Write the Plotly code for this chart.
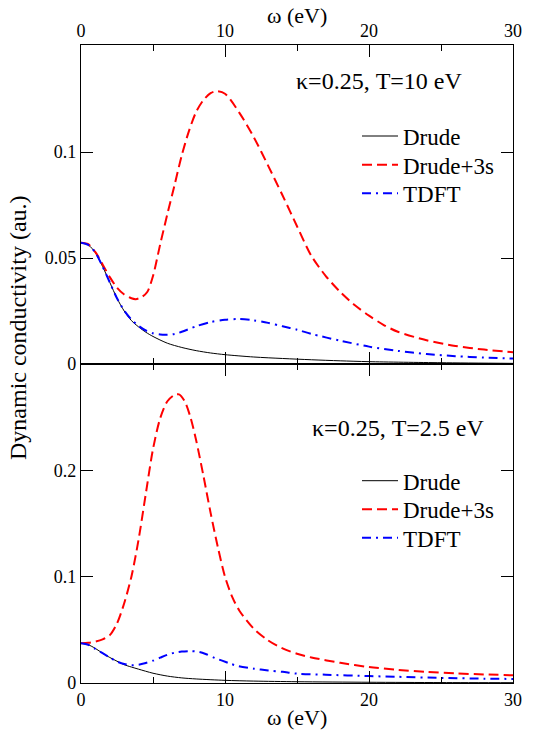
import plotly.graph_objects as go

# ---------------- data: top panel (kappa=0.25, T=10 eV) ----------------
w_top_drude = [0, 0.5, 1, 1.5, 2, 2.5, 3, 3.5, 4, 4.5, 5, 6, 7, 8, 9, 10, 12, 14, 16, 18, 20, 25, 30]
s_top_drude = [0.0572, 0.0562, 0.0525, 0.046, 0.0385, 0.031, 0.025, 0.0205, 0.0175, 0.015, 0.013,
               0.0098, 0.0078, 0.0063, 0.0052, 0.0044, 0.0033, 0.0026, 0.002, 0.0015, 0.0011, 0.0006, 0.0003]

w_top_3s = [0, 0.5, 1, 1.5, 2, 2.5, 3, 3.5, 3.8, 4.2, 4.6, 5, 5.5, 6, 6.5, 7, 7.5, 8, 8.5, 9, 9.4,
            10, 11, 12, 13, 14, 15, 16, 17, 18, 19, 20, 21, 22, 24, 26, 28, 30]
s_top_3s = [0.0572, 0.0565, 0.0528, 0.047, 0.041, 0.036, 0.0328, 0.031, 0.0306, 0.0315, 0.034, 0.0415,
            0.0565, 0.0708, 0.0845, 0.0985, 0.11, 0.119, 0.1245, 0.1278, 0.1287, 0.1275, 0.1185, 0.107,
            0.0935, 0.0795, 0.065, 0.051, 0.0415, 0.034, 0.0278, 0.0228, 0.0185, 0.0152, 0.0112, 0.0085,
            0.0068, 0.0056]

w_top_tdft = [0, 0.5, 1, 1.5, 2, 2.5, 3, 3.5, 4, 4.5, 5, 5.5, 6, 6.5, 7, 8, 9, 10, 11, 12, 13, 14, 15,
              16, 18, 20, 22, 24, 26, 28, 30]
s_top_tdft = [0.0572, 0.0562, 0.0525, 0.046, 0.0385, 0.031, 0.0252, 0.021, 0.018, 0.0158, 0.0145,
              0.0139, 0.0138, 0.0142, 0.0152, 0.0178, 0.0198, 0.0209, 0.0212, 0.0206, 0.0194, 0.0178,
              0.0162, 0.0142, 0.011, 0.0082, 0.0062, 0.0047, 0.0037, 0.003, 0.0026]

# ---------------- data: bottom panel (kappa=0.25, T=2.5 eV) ----------------
w_bot_drude = [0, 0.5, 1, 1.5, 2, 2.5, 3, 3.5, 4, 5, 6, 7, 8, 10, 12, 15, 20, 25, 30]
s_bot_drude = [0.0375, 0.036, 0.0325, 0.028, 0.024, 0.0205, 0.0172, 0.015, 0.013, 0.0092, 0.0065,
               0.0048, 0.0038, 0.0025, 0.0018, 0.0012, 0.0007, 0.0004, 0.0003]

w_bot_3s = [0, 0.5, 1, 1.5, 2, 2.5, 3, 3.5, 4, 4.5, 5, 5.5, 6, 6.5, 6.8, 7.2, 7.6, 8, 8.5, 9, 9.5,
            10, 10.5, 11, 12, 13, 14, 15, 16, 18, 20, 22, 24, 26, 28, 30]
s_bot_3s = [0.0375, 0.0378, 0.039, 0.041, 0.045, 0.056, 0.075, 0.1, 0.135, 0.178, 0.22, 0.249, 0.265,
            0.271, 0.2715, 0.265, 0.25, 0.228, 0.195, 0.16, 0.128, 0.1, 0.081, 0.068, 0.051, 0.04,
            0.0325, 0.0275, 0.024, 0.019, 0.015, 0.0124, 0.0105, 0.009, 0.0081, 0.0072]

w_bot_tdft = [0, 0.5, 1, 1.5, 2, 2.5, 3, 3.5, 4, 4.5, 5, 5.5, 6, 6.5, 7, 7.6, 8.2, 8.7, 9.3, 9.8, 10.4,
              10.9, 12, 13, 14, 15, 17, 20, 22, 25, 28, 30]
s_bot_tdft = [0.0375, 0.036, 0.032, 0.028, 0.024, 0.0202, 0.0178, 0.0168, 0.0172, 0.0188, 0.021,
              0.0238, 0.0265, 0.0285, 0.0296, 0.030, 0.0292, 0.027, 0.0235, 0.021, 0.018, 0.016,
              0.0135, 0.0118, 0.0105, 0.0088, 0.0078, 0.0065, 0.0058, 0.0048, 0.0041, 0.0038]

series_names = ["Drude", "Drude+3s", "TDFT"]
x_tickvals = [0, 10, 20, 30]
top_y_tickvals = [0, 0.05, 0.1]
top_y_ticktext = ["0", "0.05", "0.1"]
bot_y_tickvals = [0, 0.1, 0.2]
bot_y_ticktext = ["0", "0.1", "0.2"]
top_label = "κ=0.25, T=10 eV"
bot_label = "κ=0.25, T=2.5 eV"
x_title = "ω (eV)"
y_title = "Dynamic conductivity (au.)"

FONT = "Liberation Serif, Times New Roman, Times, serif"
RED_DASH = "10px,5px"
BLUE_DASHDOT = "9px,5px,2px,5px"

# plot area in page pixels: x 81..513, y 45..683
PLOT_L, PLOT_W, PLOT_B, PLOT_H = 81, 432, 683, 638
LEG_FONT = 23
LEG_ITEMW = 36


def px_x(x):
    return (x - PLOT_L) / PLOT_W


def px_y(y):
    return (PLOT_B - y) / PLOT_H


# centre rows of the legend entries (page pixels)
top_leg_rows = [136, 164.7, 193.3]
bot_leg_rows = [480.7, 509.3, 537.7]
leg_line_start = 362

fig = go.Figure()

STYLES = [dict(color="black", width=1),
          dict(color="#ff0000", width=2, dash=RED_DASH),
          dict(color="#0000ff", width=2, dash=BLUE_DASHDOT)]

legend_common = dict(font=dict(family=FONT, size=LEG_FONT, color="black"), bgcolor="rgba(0,0,0,0)",
                     borderwidth=0, xanchor="left", yanchor="top", tracegroupgap=0, itemwidth=LEG_ITEMW)
item_h = LEG_FONT * 1.3 + 3
legends = {}


def add_set(ws, ss, xa, ya, rows, first_idx):
    for k, (w, s, name, st) in enumerate(zip(ws, ss, series_names, STYLES)):
        idx = first_idx + k
        leg = "legend" if idx == 1 else f"legend{idx}"
        legends[leg] = dict(legend_common, x=px_x(leg_line_start - 5),
                            y=px_y(rows[k] - 5 - item_h / 2))
        fig.add_trace(go.Scatter(x=w, y=s, mode="lines", name=name,
                                 line=dict(shape="spline", smoothing=0.8, **st),
                                 xaxis=xa, yaxis=ya, legend=leg, hoverinfo="skip"))


add_set([w_top_drude, w_top_3s, w_top_tdft], [s_top_drude, s_top_3s, s_top_tdft], "x", "y", top_leg_rows, 1)
add_set([w_bot_drude, w_bot_3s, w_bot_tdft], [s_bot_drude, s_bot_3s, s_bot_tdft], "x2", "y2", bot_leg_rows, 4)

axis_common = dict(showline=True, linecolor="black", linewidth=1.2, mirror="ticks", ticks="inside",
                   ticklen=12, tickwidth=1.2, tickcolor="black", showgrid=False, zeroline=False,
                   tickfont=dict(family=FONT, size=18, color="black"))
x_common = dict(axis_common, range=[0, 30], tickvals=x_tickvals,
                minor=dict(dtick=5, tick0=0, ticks="inside", ticklen=6, tickwidth=1.2, tickcolor="black",
                           showgrid=False))

# the page puts the figure 8px in from the top-left corner, so the figure is 535x732
fig.update_layout(
    width=535, height=732,
    margin=dict(l=73, r=30, t=37, b=57),
    paper_bgcolor="white", plot_bgcolor="white",
    font=dict(family=FONT, color="black"),
    xaxis=dict(x_common, domain=[0, 1], anchor="y", side="top"),
    yaxis=dict(axis_common, domain=[0.5, 1], anchor="x", range=[0, 0.1505],
               tickvals=top_y_tickvals, ticktext=top_y_ticktext),
    xaxis2=dict(x_common, domain=[0, 1], anchor="y2", side="bottom"),
    yaxis2=dict(axis_common, domain=[0, 0.5], anchor="x2", range=[0, 0.3],
                tickvals=bot_y_tickvals, ticktext=bot_y_ticktext),
    showlegend=True,
    annotations=[
        dict(text=top_label, x=px_x(379), y=px_y(80.5), xref="paper", yref="paper", showarrow=False,
             font=dict(family=FONT, size=24), xanchor="center", yanchor="middle"),
        dict(text=bot_label, x=px_x(398), y=px_y(428), xref="paper", yref="paper", showarrow=False,
             font=dict(family=FONT, size=24), xanchor="center", yanchor="middle"),
        dict(text=x_title, x=0.5, y=px_y(15), xref="paper", yref="paper", showarrow=False,
             font=dict(family=FONT, size=22), xanchor="center", yanchor="middle"),
        dict(text=x_title, x=0.5, y=px_y(718), xref="paper", yref="paper", showarrow=False,
             font=dict(family=FONT, size=22), xanchor="center", yanchor="middle"),
        dict(text=y_title, x=px_x(18), y=px_y(328), xref="paper", yref="paper", showarrow=False,
             textangle=-90, font=dict(family=FONT, size=24), xanchor="center", yanchor="middle"),
    ],
)
fig.update_layout(**legends)

fig.write_html("out.html")
